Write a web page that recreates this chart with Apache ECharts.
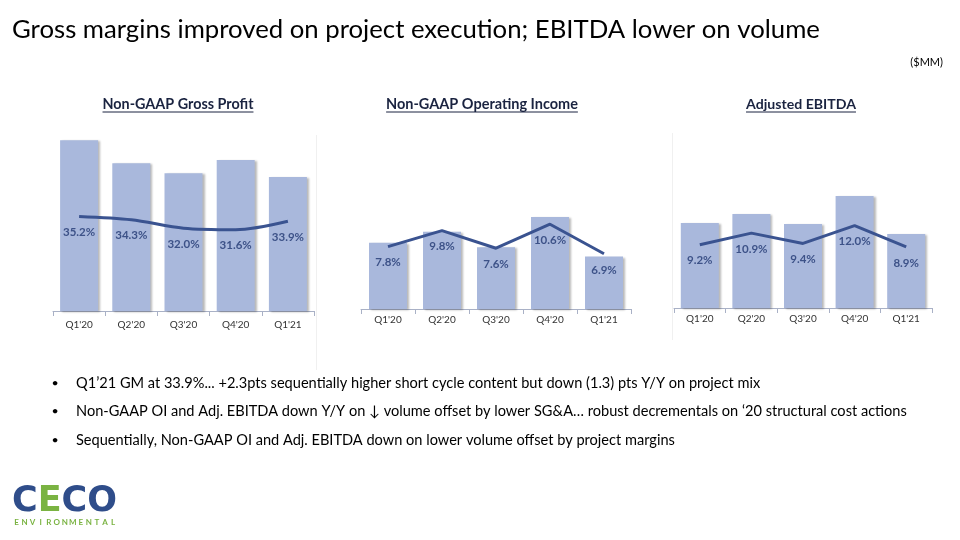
<!DOCTYPE html>
<html><head><meta charset="utf-8">
<script src="https://cdn.jsdelivr.net/npm/echarts@6/dist/echarts.min.js"></script>
<style>html,body{margin:0;padding:0;background:#fff}#c{width:960px;height:540px}</style>
</head><body><div id="c"></div>
<script>
// ---- data ----
const categories = ["Q1'20", "Q2'20", "Q3'20", "Q4'20", "Q1'21"];
const grossProfit = [32.5, 28.1, 26.2, 28.7, 25.5];
const grossMarginPct = [35.2, 34.3, 32.0, 31.6, 33.9];
const operatingIncome = [7.2, 8.4, 6.7, 10.0, 5.7];
const operatingMarginPct = [7.8, 9.8, 7.6, 10.6, 6.9];
const adjEbitda = [8.5, 9.4, 8.4, 11.2, 7.4];
const ebitdaMarginPct = [9.2, 10.9, 9.4, 12.0, 8.9];
const chartTitles = ["Non-GAAP Gross Profit", "Non-GAAP Operating Income", "Adjusted EBITDA"];
const pageTitle = "Gross margins improved on project execution; EBITDA lower on volume";
const unitNote = "($MM)";
const bullets = [
  "Q1\u201921 GM at 33.9%... +2.3pts sequentially higher short cycle content but down (1.3) pts Y/Y on project mix",
  "Non-GAAP OI and Adj. EBITDA down Y/Y on \u2193 volume offset by lower SG&A\u2026 robust decrementals on \u201820 structural cost actions",
  "Sequentially, Non-GAAP OI and Adj. EBITDA down on lower volume offset by project margins"
];

// ---- layout ----
const FONT = 'Lato, "Open Sans", sans-serif';
const BAR = '#a9b8dc', LINE = '#3a5390', LBL = '#3d5288';
const panels = [
  {bars: grossProfit, pct: grossMarginPct, grid: {left: 53, top: 127, width: 261, height: 184}, barMax: 35, lMin: 9.5, lMax: 59.5, smooth: true, margin: 9, tx: 178, tw: 151},
  {bars: operatingIncome, pct: operatingMarginPct, grid: {left: 361, top: 125, width: 270, height: 184}, barMax: 20, lMin: 0, lMax: 23, smooth: false, margin: 6, tx: 482, tw: 192},
  {bars: adjEbitda, pct: ebitdaMarginPct, grid: {left: 674, top: 128, width: 258, height: 180}, barMax: 18, lMin: 0, lMax: 26.2, smooth: false, margin: 6, tx: 801, tw: 110}
];

const ctx = document.createElement('canvas').getContext('2d');
function tw(t, font) { ctx.font = font; return ctx.measureText(t).width; }
function fitSize(t, weight, target) { return 20 * target / tw(t, weight + ' 20px ' + FONT); }

const grids = [], xAxes = [], yAxes = [], series = [], graphics = [];
panels.forEach((p, i) => {
  grids.push(Object.assign({containLabel: false}, p.grid));
  xAxes.push({
    type: 'category', gridIndex: i, data: categories,
    axisLine: {lineStyle: {color: '#a9b1c6', width: 1}},
    axisTick: {show: true, length: 5, lineStyle: {color: '#a9b1c6'}},
    axisLabel: {fontSize: 10, color: '#333', margin: p.margin, fontFamily: FONT}
  });
  yAxes.push({type: 'value', gridIndex: i, min: 0, max: p.barMax, show: false, splitLine: {show: false}});
  yAxes.push({type: 'value', gridIndex: i, min: p.lMin, max: p.lMax, show: false, splitLine: {show: false}});
  series.push({
    type: 'bar', xAxisIndex: i, yAxisIndex: 2 * i, data: p.bars, barWidth: 38,
    itemStyle: {color: BAR, shadowColor: 'rgba(0,0,0,0.28)', shadowOffsetX: 2, shadowOffsetY: 1, shadowBlur: 2},
    silent: true, animation: false
  });
  series.push({
    type: 'line', xAxisIndex: i, yAxisIndex: 2 * i + 1, data: p.pct, smooth: p.smooth ? 0.3 : false,
    symbol: 'circle', symbolSize: 0, showSymbol: true,
    lineStyle: {color: LINE, width: 3}, itemStyle: {color: LINE},
    label: {show: true, position: 'bottom', distance: 10, color: LBL, fontWeight: 'bold', fontSize: 11.5, fontFamily: FONT,
      formatter: q => q.value.toFixed(1) + '%'},
    z: 5, animation: false
  });
  const fs = fitSize(chartTitles[i], 'bold', p.tw);
  const w = tw(chartTitles[i], 'bold ' + fs + 'px ' + FONT);
  graphics.push({type: 'text', x: p.tx, y: 104, style: {text: chartTitles[i], font: 'bold ' + fs.toFixed(2) + 'px ' + FONT, fill: '#1a2340', align: 'center', verticalAlign: 'middle'}});
  graphics.push({type: 'line', shape: {x1: p.tx - w / 2, y1: 112, x2: p.tx + w / 2, y2: 112}, style: {stroke: '#1a2340', lineWidth: 1}});
});

// faint plot-area borders
graphics.push({type: 'line', shape: {x1: 316.5, y1: 135, x2: 316.5, y2: 370}, style: {stroke: '#f0f0f0', lineWidth: 1}});
graphics.push({type: 'line', shape: {x1: 672.5, y1: 133, x2: 672.5, y2: 340}, style: {stroke: '#f0f0f0', lineWidth: 1}});

// page title
const titleSize = fitSize(pageTitle, 'normal', 808);
graphics.push({type: 'text', x: 12, y: 30, style: {text: pageTitle, font: titleSize.toFixed(2) + 'px ' + FONT, fill: '#000', align: 'left', verticalAlign: 'middle'}});
graphics.push({type: 'text', x: 943, y: 62, style: {text: unitNote, font: '11px ' + FONT, fill: '#000', align: 'right', verticalAlign: 'middle'}});

// bullets
const bSize = fitSize(bullets[2], 'normal', 599);
bullets.forEach((b, k) => {
  const y = 383 + k * 28.5;
  graphics.push({type: 'text', x: 55, y: y, style: {text: '\u2022', font: (bSize * 0.85).toFixed(2) + 'px ' + FONT, fill: '#000', align: 'center', verticalAlign: 'middle'}});
  graphics.push({type: 'text', x: 76, y: y, style: {text: b, font: bSize.toFixed(2) + 'px ' + FONT, fill: '#000', align: 'left', verticalAlign: 'middle'}});
});

// logo
const NAVY = '#2f4d8a', GREEN = '#7ab342';
graphics.push({type: 'text', x: 12, y: 502, style: {
  text: '{n|C}{g|E}{n|CO}', align: 'left', verticalAlign: 'middle',
  rich: {n: {fill: NAVY, font: 'bold 35px "DejaVu Sans", sans-serif'}, g: {fill: GREEN, font: 'bold 35px "DejaVu Sans", sans-serif'}}
}});
const env = 'ENVIRONMENTAL';
for (let k = 0; k < env.length; k++) {
  graphics.push({type: 'text', x: 16.5 + k * 8.05, y: 522, style: {text: env[k], font: 'bold 8px ' + FONT, fill: GREEN, align: 'center', verticalAlign: 'middle'}});
}

const chart = echarts.init(document.getElementById('c'), null, {renderer: 'canvas'});
chart.setOption({
  animation: false,
  backgroundColor: '#fff',
  grid: grids, xAxis: xAxes, yAxis: yAxes, series: series,
  graphic: {elements: graphics}
});
</script></body></html>
